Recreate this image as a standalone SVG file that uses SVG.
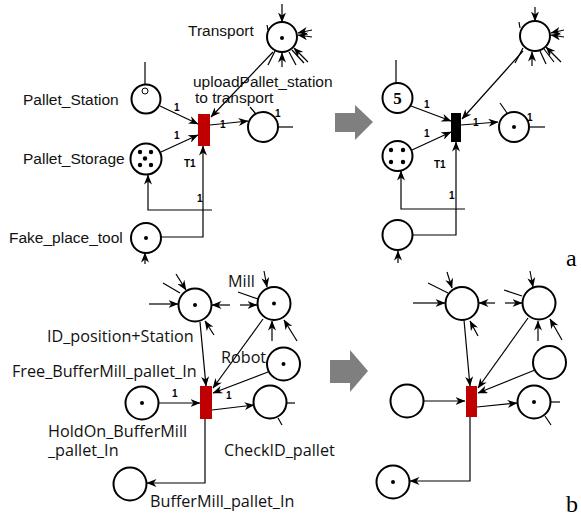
<svg xmlns="http://www.w3.org/2000/svg" width="581" height="516" viewBox="0 0 581 516">
<defs>
<marker id="ah" viewBox="0 0 10 8" refX="9.5" refY="4" markerWidth="10" markerHeight="8" orient="auto" markerUnits="userSpaceOnUse"><path d="M0,0 L10,4 L0,8 L3,4 z" fill="#000"/></marker>
</defs>
<style>
.pl{fill:#fff;stroke:#000;stroke-width:2}
.tok{fill:#000}
.ln{fill:none;stroke:#000;stroke-width:1.2}
.ar{fill:none;stroke:#000;stroke-width:1.2;marker-end:url(#ah)}
.lbA{font-family:"Liberation Sans",Arial,sans-serif;font-size:15.5px;fill:#111}
.lbB{font-family:"Open Sans","Noto Sans",sans-serif;font-size:16.2px;fill:#111}
.one{font-family:"Liberation Sans",Arial,sans-serif;font-size:10px;font-weight:bold;fill:#000}
.tr{fill:#c00000}
.big{fill:#7f7f7f}
.pan{font-family:"Liberation Serif","Times New Roman",serif;font-size:24px;fill:#000}
</style>
<rect width="581" height="516" fill="#fff"/>

<!-- gray arrows -->
<g id="arrow1"><path class="big" d="M335,113 H355 V105 L373,122 L355,140 V132 H335 Z"/></g>
<g id="arrow2"><path class="big" d="M330,360 H350 V350 L368,371 L350,392 V383 H330 Z"/></g>

<!-- ===== panel a, left ===== -->
<g id="connectors-a-left">
<line class="ar" x1="160" y1="106" x2="198" y2="124"/>
<line class="ar" x1="161" y1="152" x2="198" y2="135"/>
<line class="ar" x1="273" y1="52" x2="211" y2="117"/>
<line class="ar" x1="210" y1="125" x2="248" y2="121"/>
<polyline class="ar" points="161,237 203,237 203,146"/>
<polyline class="ar" points="212,210 148,210 148,175"/>
<line class="ln" x1="145" y1="62" x2="145" y2="88"/>
<line class="ar" x1="145" y1="264" x2="145" y2="253"/>
<line class="ln" x1="277" y1="127" x2="293" y2="127"/>
<line class="ln" x1="250" y1="107" x2="256" y2="114"/>
<!-- transport decorations -->
<line class="ar" x1="282" y1="4" x2="282" y2="22"/>
<line class="ar" x1="312" y1="30" x2="298" y2="33"/>
<line class="ar" x1="312" y1="37" x2="298" y2="35"/>
<line class="ar" x1="308" y1="62" x2="294" y2="48"/>
<line class="ar" x1="282" y1="67" x2="282" y2="53"/>
<line class="ln" x1="275" y1="51" x2="268" y2="65"/>
<line class="ln" x1="289" y1="52" x2="296" y2="65"/>
<line class="ln" x1="292" y1="50" x2="304" y2="63"/>
<line class="ln" x1="267" y1="25" x2="268" y2="30"/>
</g>
<g id="Transport"><circle class="pl" cx="282" cy="37" r="15"/><circle class="tok" cx="282" cy="38" r="2"/><text class="lbA" x="188" y="36">Transport</text></g>
<g id="Pallet_Station"><circle class="pl" cx="146" cy="99" r="14.5"/><circle cx="145" cy="91" r="3" fill="none" stroke="#000" stroke-width="1"/><text class="lbA" x="23" y="105">Pallet_Station</text></g>
<g id="Pallet_Storage"><circle class="pl" cx="146" cy="159" r="15.5"/>
<circle class="tok" cx="140" cy="152" r="2.2"/><circle class="tok" cx="151" cy="152" r="2.2"/><circle class="tok" cx="145" cy="158.5" r="2.2"/><circle class="tok" cx="140" cy="165" r="2.2"/><circle class="tok" cx="151" cy="165" r="2.2"/>
<text class="lbA" x="23" y="164">Pallet_Storage</text></g>
<g id="Fake_place_tool"><circle class="pl" cx="146" cy="238" r="15"/><circle class="tok" cx="146" cy="238" r="2"/><text class="lbA" x="9" y="243">Fake_place_tool</text></g>
<g id="T1"><rect class="tr" x="198" y="114" width="12" height="32"/><text class="one" x="184" y="167">T1</text></g>
<g id="outA"><circle class="pl" cx="263" cy="127" r="15"/><text class="lbA" x="193" y="87">uploadPallet_station</text><text class="lbA" x="195" y="103">to transport</text></g>
<g id="labels-a-left">
<text class="one" x="174" y="111">1</text><text class="one" x="174" y="139">1</text><text class="one" x="220" y="128">1</text><text class="one" x="197" y="202">1</text><text class="one" x="275" y="117">1</text>
</g>

<!-- ===== panel a, right ===== -->
<g id="connectors-a-right">
<line class="ar" x1="411" y1="106" x2="451" y2="121"/>
<line class="ar" x1="412" y1="150" x2="451" y2="132"/>
<line class="ar" x1="523" y1="51" x2="462" y2="119"/>
<line class="ar" x1="461" y1="125" x2="498" y2="122"/>
<polyline class="ar" points="413,235 456,235 456,142"/>
<polyline class="ar" points="465,209 401,209 401,171"/>
<line class="ln" x1="396" y1="60" x2="396" y2="83"/>
<line class="ar" x1="398" y1="263" x2="398" y2="251"/>
<line class="ln" x1="530" y1="127" x2="545" y2="127"/>
<line class="ln" x1="500" y1="103" x2="507" y2="113"/>
<line class="ar" x1="535" y1="7" x2="535" y2="21"/>
<line class="ar" x1="564" y1="30" x2="551" y2="33"/>
<line class="ar" x1="564" y1="37" x2="551" y2="35"/>
<line class="ar" x1="561" y1="62" x2="546" y2="47"/>
<line class="ar" x1="532" y1="66" x2="532" y2="52"/>
<line class="ln" x1="523" y1="48" x2="515" y2="63"/>
<line class="ln" x1="540" y1="51" x2="546" y2="64"/>
<line class="ln" x1="544" y1="49" x2="554" y2="62"/>
<line class="ln" x1="519" y1="22" x2="520" y2="28"/>
</g>
<g id="Transport2"><circle class="pl" cx="535" cy="36" r="15"/></g>
<g id="Station2"><circle class="pl" cx="397.5" cy="98" r="15"/><text x="397.5" y="104" text-anchor="middle" font-family="Liberation Serif,serif" font-weight="bold" font-size="17" fill="#000">5</text></g>
<g id="Storage2"><circle class="pl" cx="397.5" cy="156" r="15"/>
<circle class="tok" cx="391" cy="150" r="2.2"/><circle class="tok" cx="403" cy="150" r="2.2"/><circle class="tok" cx="391" cy="162" r="2.2"/><circle class="tok" cx="403" cy="162" r="2.2"/></g>
<g id="Fake2"><circle class="pl" cx="397.5" cy="235" r="15"/></g>
<g id="T1b"><rect x="451" y="113" width="10" height="29" fill="#000"/><text class="one" x="434" y="168">T1</text></g>
<g id="out2"><circle class="pl" cx="514" cy="127" r="15"/><circle class="tok" cx="514" cy="127" r="2"/></g>
<g id="labels-a-right">
<text class="one" x="424" y="108">1</text><text class="one" x="424" y="137">1</text><text class="one" x="473" y="126">1</text><text class="one" x="449" y="199">1</text><text class="one" x="527" y="121">1</text>
<text class="pan" x="566" y="266">a</text>
</g>

<!-- ===== panel b, left ===== -->
<g id="connectors-b-left">
<line class="ar" x1="200" y1="322" x2="206" y2="386"/>
<line class="ar" x1="263" y1="319" x2="213" y2="388"/>
<line class="ar" x1="268" y1="372" x2="213" y2="393"/>
<line class="ar" x1="158" y1="403" x2="200" y2="403"/>
<line class="ar" x1="212" y1="410" x2="254" y2="405"/>
<polyline class="ar" points="205,419 205,483 147,483"/>
<line class="ln" x1="287" y1="403" x2="295" y2="403"/>
<line class="ln" x1="278" y1="418" x2="282" y2="425"/>
<line class="ar" x1="149" y1="304" x2="178" y2="304"/>
<line class="ar" x1="176" y1="274" x2="186" y2="290"/>
<line class="ln" x1="163" y1="283" x2="180" y2="293"/>
<line class="ar" x1="230" y1="305" x2="212" y2="305"/>
<line class="ar" x1="214" y1="335" x2="205" y2="321"/>
<line class="ar" x1="240" y1="305" x2="257" y2="305"/>
<line class="ln" x1="238" y1="292" x2="258" y2="299"/>
<line class="ar" x1="264" y1="271" x2="267" y2="287"/>
<line class="ar" x1="272" y1="341" x2="272" y2="321"/>
<line class="ar" x1="297" y1="341" x2="284" y2="320"/>
</g>
<g id="ID_position_Station"><circle class="pl" cx="195" cy="305" r="16.5"/><circle class="tok" cx="195" cy="305" r="2"/><text class="lbB" x="47" y="342">ID_position+Station</text></g>
<g id="Mill"><circle class="pl" cx="274" cy="303.5" r="16.5"/><circle class="tok" cx="274" cy="303.5" r="2"/><text class="lbB" x="228" y="287">Mill</text></g>
<g id="Robot"><circle class="pl" cx="283.5" cy="364" r="16.5"/><circle class="tok" cx="283.5" cy="364" r="2"/><text class="lbB" x="221" y="363">Robot</text></g>
<g id="Free_BufferMill_pallet_In"><text class="lbB" x="12" y="377">Free_BufferMill_pallet_In</text></g>
<g id="HoldOn_BufferMill_pallet_In"><circle class="pl" cx="142" cy="403" r="16.5"/><circle class="tok" cx="142" cy="403" r="2"/><text class="lbB" x="48" y="437">HoldOn_BufferMill<tspan x="48" y="456">_pallet_In</tspan></text></g>
<g id="Tb"><rect class="tr" x="200" y="386" width="12" height="33"/></g>
<g id="CheckID_pallet"><circle class="pl" cx="270" cy="402" r="16.5"/><text class="lbB" x="224" y="456">CheckID_pallet</text></g>
<g id="BufferMill_pallet_In"><circle class="pl" cx="130" cy="484" r="16.5"/><text class="lbB" x="150" y="507">BufferMill_pallet_In</text></g>
<g id="labels-b-left"><text class="one" x="172" y="397">1</text><text class="one" x="226" y="399">1</text></g>

<!-- ===== panel b, right ===== -->
<g id="connectors-b-right">
<line class="ar" x1="464" y1="320" x2="470" y2="386"/>
<line class="ar" x1="528" y1="318" x2="478" y2="388"/>
<line class="ar" x1="535" y1="370" x2="478" y2="393"/>
<line class="ar" x1="423" y1="401" x2="465" y2="401"/>
<line class="ar" x1="477" y1="407" x2="517" y2="403"/>
<polyline class="ar" points="470,417 470,481 410,481"/>
<line class="ln" x1="550" y1="402" x2="560" y2="402"/>
<line class="ln" x1="545" y1="416" x2="551" y2="425"/>
<line class="ar" x1="413" y1="303" x2="445" y2="303"/>
<line class="ln" x1="428" y1="283" x2="448" y2="293"/>
<line class="ar" x1="447" y1="272" x2="452" y2="288"/>
<line class="ar" x1="495" y1="303" x2="479" y2="303"/>
<line class="ar" x1="478" y1="336" x2="470" y2="321"/>
<line class="ar" x1="505" y1="303" x2="522" y2="303"/>
<line class="ln" x1="504" y1="290" x2="522" y2="296"/>
<line class="ar" x1="530" y1="271" x2="533" y2="287"/>
<line class="ar" x1="538" y1="341" x2="538" y2="321"/>
<line class="ar" x1="562" y1="340" x2="550" y2="319"/>
</g>
<g id="P_A"><circle class="pl" cx="462" cy="303.5" r="16.5"/></g>
<g id="P_B"><circle class="pl" cx="539" cy="303" r="16.5"/></g>
<g id="P_C"><circle class="pl" cx="549.5" cy="362.5" r="16.5"/></g>
<g id="P_L"><circle class="pl" cx="407" cy="401" r="16.5"/></g>
<g id="Tb2"><rect class="tr" x="466" y="386" width="11" height="31"/></g>
<g id="P_R"><circle class="pl" cx="534" cy="402" r="16.5"/><circle class="tok" cx="534" cy="402" r="2"/></g>
<g id="P_D"><circle class="pl" cx="393" cy="482" r="16.5"/><circle class="tok" cx="393" cy="482" r="2"/></g>
<g id="labels-b-right"><text class="pan" x="566" y="512">b</text></g>
</svg>
